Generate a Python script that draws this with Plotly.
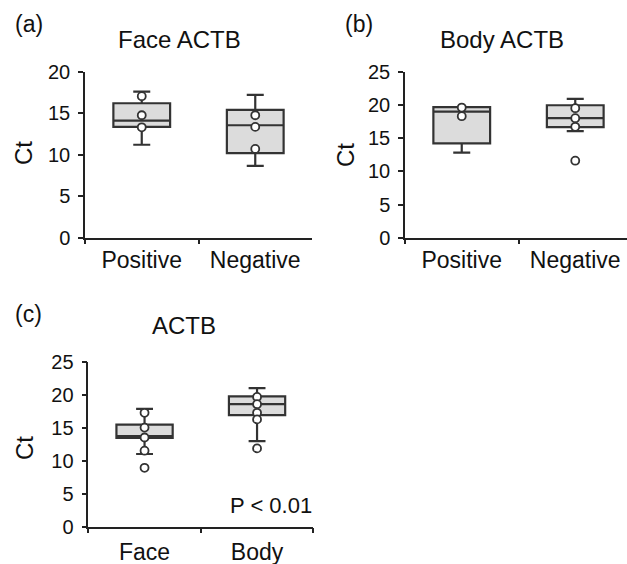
import plotly.graph_objects as go

# ---------------- data ----------------
face_cats = ["Positive", "Negative"]
face_q1 = [13.35, 10.2]
face_median = [14.1, 13.55]
face_q3 = [16.2, 15.4]
face_low = [11.2, 8.65]
face_high = [17.6, 17.2]
face_pts_pos = [17.05, 14.75, 13.3]
face_pts_neg = [14.75, 13.35, 10.7]

body_cats = ["Positive", "Negative"]
body_q1 = [14.2, 16.65]
body_median = [19.0, 18.0]
body_q3 = [19.65, 19.95]
body_low = [12.8, 16.05]
body_high = [19.65, 20.9]
body_pts_pos = [19.6, 18.3]
body_pts_neg = [19.5, 18.0, 16.7, 11.6]

all_cats = ["Face", "Body"]
all_q1 = [13.45, 16.9]
all_median = [13.7, 18.55]
all_q3 = [15.45, 19.75]
all_low = [11.0, 12.95]
all_high = [17.85, 21.0]
all_pts_face = [17.25, 15.0, 13.5, 11.5, 8.9]
all_pts_body = [19.65, 18.55, 17.25, 16.25, 11.85]

y_ticks_a = [0, 5, 10, 15, 20]
y_ticks_bc = [0, 5, 10, 15, 20, 25]

# ---------------- styles ----------------
FONT = "Liberation Sans, Arial, sans-serif"
LINE = "#333333"
FILL = "#dcdcdc"
W, H = 627, 564

fig = go.Figure()


def add_panel(cats, q1, med, q3, lo, hi, pts, xa, ya):
    fig.add_trace(go.Box(
        x=cats, q1=q1, median=med, q3=q3, lowerfence=lo, upperfence=hi,
        width=0.5, whiskerwidth=0.3, fillcolor=FILL,
        line=dict(color=LINE, width=2.2), boxpoints=False,
        xaxis=xa, yaxis=ya, showlegend=False, hoverinfo="skip",
    ))
    xs, ys = [], []
    for c, vals in zip(cats, pts):
        xs += [c] * len(vals)
        ys += vals
    fig.add_trace(go.Scatter(
        x=xs, y=ys, mode="markers", xaxis=xa, yaxis=ya, showlegend=False,
        marker=dict(symbol="circle", size=8, color="white",
                    line=dict(color=LINE, width=1.8)),
        hoverinfo="skip",
    ))


add_panel(face_cats, face_q1, face_median, face_q3, face_low, face_high,
          [face_pts_pos, face_pts_neg], "x", "y")
add_panel(body_cats, body_q1, body_median, body_q3, body_low, body_high,
          [body_pts_pos, body_pts_neg], "x2", "y2")
add_panel(all_cats, all_q1, all_median, all_q3, all_low, all_high,
          [all_pts_face, all_pts_body], "x3", "y3")


def px_x(p):
    return p / W


def px_y(p):
    return 1 - p / H


xcommon = dict(type="category", showline=True, linecolor="#222222", linewidth=1.5,
               ticks="outside", ticklen=5, tickwidth=1.5, tickcolor="#222222",
               tickson="boundaries", showgrid=False, zeroline=False,
               automargin=False,
               tickfont=dict(family=FONT, size=23, color="#111111"))
ycommon = dict(showline=True, linecolor="#222222", linewidth=1.5,
               ticks="outside", ticklen=5, tickwidth=1.5, tickcolor="#222222",
               showgrid=False, zeroline=False, automargin=False,
               ticklabelstandoff=4,
               tickfont=dict(family=FONT, size=20, color="#111111"))

fig.update_layout(
    width=W, height=H, margin=dict(l=0, r=0, t=0, b=0, autoexpand=False),
    paper_bgcolor="white", plot_bgcolor="white",
    boxmode="overlay",
    xaxis=dict(xcommon, domain=[px_x(85), px_x(312)], range=[-0.5, 1.5],
               categoryarray=face_cats, categoryorder="array", anchor="y",
               ticklabelstandoff=1),
    yaxis=dict(ycommon, domain=[px_y(237.7), px_y(71.7)], range=[0, 20],
               tickvals=y_ticks_a, anchor="x"),
    xaxis2=dict(xcommon, domain=[px_x(405), 1], range=[-0.5, 1.456],
                categoryarray=body_cats, categoryorder="array", anchor="y2",
                ticklabelstandoff=1),
    yaxis2=dict(ycommon, domain=[px_y(237.7), px_y(71.7)], range=[0, 25],
                tickvals=y_ticks_bc, anchor="x2"),
    xaxis3=dict(xcommon, domain=[px_x(88.3), px_x(313.3)], range=[-0.5, 1.5],
                categoryarray=all_cats, categoryorder="array", anchor="y3",
                ticklabelstandoff=4),
    yaxis3=dict(ycommon, domain=[px_y(526.5), px_y(361.7)], range=[0, 25],
                tickvals=y_ticks_bc, anchor="x3"),
)


def txt(s, x, y, size=21, angle=0, xanchor="center"):
    fig.add_annotation(text=s, x=px_x(x), y=px_y(y), xref="paper", yref="paper",
                       showarrow=False, textangle=angle, xanchor=xanchor,
                       yanchor="middle",
                       font=dict(family=FONT, size=size, color="#111111"))


# panel labels and titles
txt("(a)", 13, 24, size=23, xanchor="left")
txt("Face ACTB", 179, 39, size=24)
txt("Ct", 24, 153, size=24, angle=-90)

txt("(b)", 343, 24, size=23, xanchor="left")
txt("Body ACTB", 502, 39, size=24)
txt("Ct", 345, 155, size=24, angle=-90)

txt("(c)", 13, 314, size=23, xanchor="left")
txt("ACTB", 184, 325, size=24)
txt("Ct", 24, 448, size=24, angle=-90)

txt("P < 0.01", 314, 505, size=22, xanchor="right")

fig.write_html("out.html", config={"displayModeBar": False},
               post_script="document.body.style.margin='0';document.body.style.overflow='hidden';")
